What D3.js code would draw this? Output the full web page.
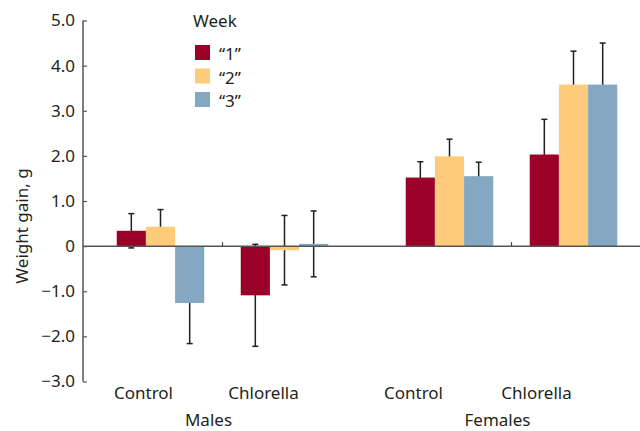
<!DOCTYPE html>
<html><head><meta charset="utf-8">
<script src="https://cdn.jsdelivr.net/npm/d3@7"></script>
<style>body{margin:0;background:#fff}svg{display:block}text{font-family:"Noto Sans",sans-serif;fill:#231f20}</style>
</head><body>
<script>
const sexes = ["Males", "Females"];
const treatments = ["Control", "Chlorella"];
const weeks = ["“1”", "“2”", "“3”"];
const colors = ["#9b0029", "#fecb7a", "#84a8c2"];
const maleControl = [0.34, 0.43, -1.26];
const maleChlorella = [-1.09, -0.09, 0.05];
const femaleControl = [1.52, 1.99, 1.55];
const femaleChlorella = [2.03, 3.58, 3.58];
const errMaleControl = [0.38, 0.38, 0.90];
const errMaleChlorella = [1.13, 0.77, 0.73];
const errFemaleControl = [0.35, 0.38, 0.31];
const errFemaleChlorella = [0.78, 0.74, 0.92];
const yTicks = [5, 4, 3, 2, 1, 0, -1, -2, -3];

const W = 640, H = 431;
const svg = d3.select("body").append("svg").attr("width", W).attr("height", H);

const y = d3.scaleLinear().domain([-3, 5]).range([381.5, 20.5]);
const xSex = d3.scalePoint().domain(sexes).range([222.5, 511.5]);
const xTreat = d3.scaleBand().domain(treatments).range([-124, 124]);
const xWeek = d3.scaleBand().domain(weeks).range([0, xTreat.bandwidth()]).paddingInner(0).paddingOuter(0.625);

const values = {Males: {Control: maleControl, Chlorella: maleChlorella}, Females: {Control: femaleControl, Chlorella: femaleChlorella}};
const errors = {Males: {Control: errMaleControl, Chlorella: errMaleChlorella}, Females: {Control: errFemaleControl, Chlorella: errFemaleChlorella}};
const rows = [];
sexes.forEach(s => treatments.forEach(t => weeks.forEach((w, i) => {
  rows.push({s, t, w, i, v: values[s][t][i], e: errors[s][t][i]});
})));
const bx = d => xSex(d.s) + xTreat(d.t) + xWeek(d.w);

const eg = svg.append("g").attr("stroke", "#231f20").attr("stroke-width", 1.5);
rows.forEach(d => {
  const cx = bx(d) + xWeek.bandwidth() / 2;
  eg.append("line").attr("x1", cx).attr("x2", cx).attr("y1", y(d.v + d.e)).attr("y2", y(d.v - d.e));
  [d.v + d.e, d.v - d.e].forEach(val => eg.append("line").attr("x1", cx - 3).attr("x2", cx + 3).attr("y1", y(val)).attr("y2", y(val)));
});

svg.append("g").selectAll("rect").data(rows).join("rect")
  .attr("x", bx).attr("width", xWeek.bandwidth())
  .attr("y", d => y(Math.max(0, d.v))).attr("height", d => Math.abs(y(d.v) - y(0)))
  .attr("fill", d => colors[d.i]);

svg.append("line").attr("x1", 83).attr("x2", 640).attr("y1", y(0)).attr("y2", y(0))
  .attr("stroke", "#555").attr("stroke-width", 1.5);
sexes.forEach(s => svg.append("line").attr("x1", xSex(s)).attr("x2", xSex(s))
  .attr("y1", y(0)).attr("y2", y(0) - 4).attr("stroke", "#444").attr("stroke-width", 1.2));

const yAxis = d3.axisLeft(y).tickValues(yTicks).tickSize(-4).tickPadding(8)
  .tickFormat(d => d === 0 ? "0" : d3.format(".1f")(d).replace("-", "\u2212"));
const ag = svg.append("g").attr("transform", "translate(83,0)").call(yAxis);
ag.select(".domain").attr("stroke", "#555").attr("stroke-width", 1.5).attr("d", `M0,${y(5)}V${y(-3)}`);
ag.selectAll(".tick line").attr("stroke", "#555").attr("stroke-width", 1.2);
ag.selectAll(".tick text").attr("font-size", 17).attr("fill", "#231f20").style("font-family", '"Noto Sans",sans-serif');

svg.append("text").attr("transform", `translate(28,226) rotate(-90)`).attr("text-anchor", "middle")
  .attr("font-size", 17).text("Weight gain, g");

const labelShift = {Males: {Control: -17, Chlorella: -21}, Females: {Control: -36, Chlorella: -37}};
sexes.forEach(s => {
  treatments.forEach(t => svg.append("text")
    .attr("x", xSex(s) + xTreat(t) + xTreat.bandwidth() / 2 + labelShift[s][t])
    .attr("y", 399).attr("text-anchor", "middle").attr("font-size", 17).text(t));
  svg.append("text").attr("x", xSex(s) - 14).attr("y", 426).attr("text-anchor", "middle").attr("font-size", 17).text(s);
});

const lg = svg.append("g").attr("transform", "translate(195,0)");
lg.append("text").attr("x", -2).attr("y", 27).attr("font-size", 17).text("Week");
weeks.forEach((w, i) => {
  lg.append("rect").attr("x", 0).attr("y", 45 + i * 23.5).attr("width", 15).attr("height", 15).attr("fill", colors[i]);
  lg.append("text").attr("x", 24).attr("y", 60 + i * 23.5).attr("font-size", 17).text(w);
});
</script>
</body></html>
